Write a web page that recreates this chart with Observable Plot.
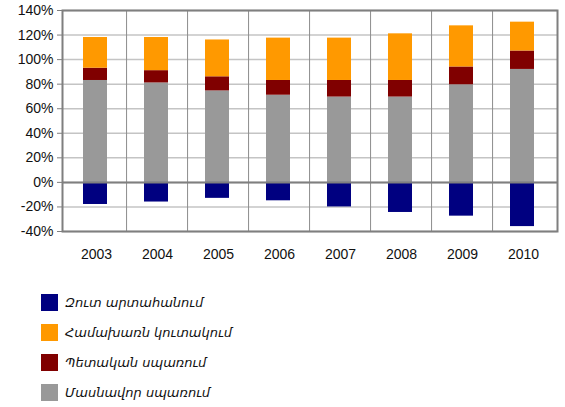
<!DOCTYPE html>
<html>
<head>
<meta charset="utf-8">
<script src="https://cdn.jsdelivr.net/npm/d3@7"></script>
<script src="https://cdn.jsdelivr.net/npm/@observablehq/plot@0.6"></script>
<style>
  body { margin: 0; background: #fff; font-family: "Liberation Sans", Arial, sans-serif; }
  #chart svg { display: block; }
  .legend { margin-top: 19px; padding-left: 41px; }
  .legend .row { display: flex; align-items: center; height: 30px; }
  .legend .sw { width: 17px; height: 17px; margin-right: 7px; flex: none; }
  .legend .lb { font-family: "DejaVu Sans", sans-serif; font-style: italic; font-size: 13px; color: #111; }
</style>
</head>
<body>
<div id="chart"></div>
<div class="legend" id="legend"></div>
<script>
// Components of GDP by expenditure, share of GDP (%)
const years = ["2003", "2004", "2005", "2006", "2007", "2008", "2009", "2010"];
const privateConsumption = [83, 81, 74.5, 71, 69.5, 69.5, 79.5, 92];
const governmentConsumption = [10, 10, 11.5, 12, 13.5, 13.5, 14.5, 15];
const grossCapitalFormation = [25, 27, 30, 34.5, 34.5, 38, 33.5, 23.5];
const netExports = [-18, -16, -13, -15, -20, -24.5, -27.5, -36];

const seriesNames = ["Մասնավոր սպառում", "Պետական սպառում", "Համախառն կուտակում", "Զուտ արտահանում"];
const seriesColors = ["#999999", "#800000", "#ff9900", "#000080"];
const legendOrder = [3, 2, 1, 0];
const yTicks = [-40, -20, 0, 20, 40, 60, 80, 100, 120, 140];

const seriesValues = [privateConsumption, governmentConsumption, grossCapitalFormation, netExports];
const rows = [];
years.forEach((year, i) => {
  seriesValues.forEach((vals, s) => {
    rows.push({ year, series: seriesNames[s], value: vals[i], order: s });
  });
});

const W = 565, H = 268;
const mL = 62, mR = 8, mT = 10, mB = 37;
const step = (W - mL - mR) / years.length;

const chart = Plot.plot({
  width: W,
  height: H,
  marginLeft: mL,
  marginRight: mR,
  marginTop: mT,
  marginBottom: mB,
  style: { fontFamily: "Liberation Sans, Arial, sans-serif", fontSize: "14px", color: "#111" },
  x: { domain: years, paddingInner: 0.6, paddingOuter: 0.3, align: 0.5, label: null },
  y: { domain: [-40, 140], label: null },
  color: { domain: seriesNames, range: seriesColors },
  marks: [
    Plot.ruleY(yTicks, { stroke: "#c4c4c4", strokeWidth: 1.5 }),
    Plot.ruleX(years.slice(1), { x: d => d, dx: -step / 2, stroke: "#8c8c8c", strokeWidth: 1 }),
    Plot.barY(rows, Plot.stackY({
      x: "year",
      y: "value",
      fill: "series",
      order: "order",
      dx: -1
    })),
    Plot.ruleY([0], { stroke: "#7f7f7f", strokeWidth: 2 }),
    Plot.frame({ stroke: "#7f7f7f", strokeWidth: 2 }),
    Plot.axisY({ ticks: yTicks, tickFormat: d => d + "%", tickSize: 5, tickPadding: 4, stroke: "#7f7f7f", fontSize: 14, label: null }),
    Plot.axisX({ tickSize: 0, tickPadding: 18, fontSize: 14, label: null })
  ]
});
document.getElementById("chart").appendChild(chart);

const legend = document.getElementById("legend");
legendOrder.forEach(s => {
  const row = document.createElement("div");
  row.className = "row";
  const sw = document.createElement("span");
  sw.className = "sw";
  sw.style.background = seriesColors[s];
  const lb = document.createElement("span");
  lb.className = "lb";
  lb.textContent = seriesNames[s];
  row.append(sw, lb);
  legend.append(row);
});
</script>
</body>
</html>
